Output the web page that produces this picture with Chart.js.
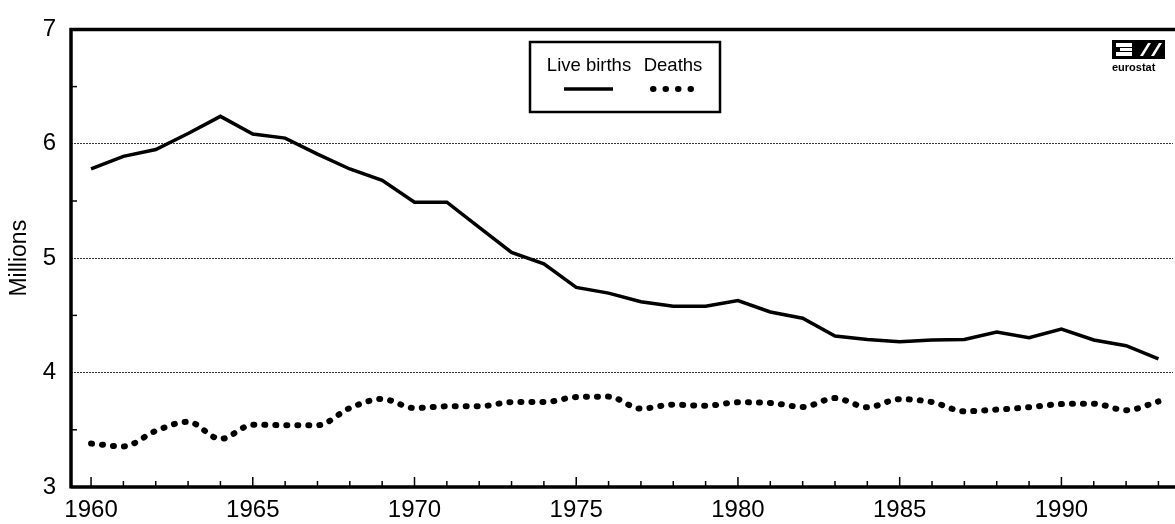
<!DOCTYPE html>
<html>
<head>
<meta charset="utf-8">
<script src="https://cdn.jsdelivr.net/npm/chart.js@4/dist/chart.umd.min.js"></script>
<style>
  html, body { margin: 0; padding: 0; background: #fff; }
  #wrap { position: relative; width: 1175px; height: 524px; }
</style>
</head>
<body>
<div id="wrap"><canvas id="c" width="1175" height="524"></canvas></div>
<script>
const years = [1960,1961,1962,1963,1964,1965,1966,1967,1968,1969,1970,1971,1972,1973,1974,1975,1976,1977,1978,1979,1980,1981,1982,1983,1984,1985,1986,1987,1988,1989,1990,1991,1992,1993];
const liveBirths = [5.78,5.89,5.95,6.09,6.24,6.085,6.05,5.91,5.78,5.68,5.49,5.49,5.27,5.05,4.95,4.745,4.695,4.62,4.58,4.58,4.63,4.53,4.475,4.32,4.29,4.27,4.285,4.29,4.355,4.305,4.38,4.285,4.235,4.12];
const deaths = [3.38,3.355,3.49,3.57,3.42,3.545,3.54,3.54,3.69,3.77,3.69,3.705,3.705,3.742,3.742,3.786,3.79,3.685,3.72,3.71,3.74,3.735,3.70,3.777,3.697,3.768,3.742,3.662,3.677,3.697,3.725,3.728,3.671,3.748];
const yTicks = [3,4,5,6,7];
const seriesNames = ['Live births','Deaths'];
const yTitle = 'Millions';
const logoText = 'eurostat';

const FONT = '"Liberation Sans", Arial, sans-serif';

const framePlugin = {
  id: 'frame',
  afterDatasetsDraw(chart) {
    const ctx = chart.ctx, a = chart.chartArea;
    const xs = chart.scales.x, ys = chart.scales.y;
    ctx.save();
    ctx.strokeStyle = '#000';
    ctx.setLineDash([]);
    // inward ticks on x
    ctx.lineWidth = 1.5;
    years.forEach(yr => {
      const px = xs.getPixelForValue(yr);
      const len = yr % 5 === 0 ? 10 : 6;
      ctx.beginPath(); ctx.moveTo(px, a.bottom); ctx.lineTo(px, a.bottom - len); ctx.stroke();
    });
    // inward minor ticks on y
    for (let v = yTicks[0] + 0.5; v < yTicks[yTicks.length-1]; v += 1) {
      const py = ys.getPixelForValue(v);
      ctx.beginPath(); ctx.moveTo(a.left, py); ctx.lineTo(a.left + 6, py); ctx.stroke();
    }
    // axes / frame
    ctx.lineWidth = 3.5;
    ctx.beginPath();
    ctx.moveTo(a.left, a.bottom); ctx.lineTo(chart.width, a.bottom);
    ctx.moveTo(a.left, a.bottom + 1.5); ctx.lineTo(a.left, a.top - 1.5);
    ctx.moveTo(a.left - 1.5, a.top); ctx.lineTo(chart.width, a.top);
    ctx.stroke();

    // legend box
    const lx = 530, ly = 42, lw = 190, lh = 70;
    ctx.fillStyle = '#fff';
    ctx.fillRect(lx, ly, lw, lh);
    ctx.lineWidth = 2.5;
    ctx.strokeRect(lx, ly, lw, lh);
    ctx.fillStyle = '#000';
    ctx.font = '18.5px ' + FONT;
    ctx.textAlign = 'center';
    ctx.textBaseline = 'middle';
    const ds = chart.data.datasets;
    const cx = [589, 673];
    ctx.fillText(ds[0].label, cx[0], 66, 88);
    ctx.fillText(ds[1].label, cx[1], 66, 62);
    // solid sample
    ctx.lineWidth = ds[0].borderWidth;
    ctx.lineCap = 'butt';
    ctx.beginPath(); ctx.moveTo(564, 89); ctx.lineTo(613, 89); ctx.stroke();
    // dotted sample
    ctx.lineWidth = ds[1].borderWidth;
    ctx.lineCap = 'round';
    ctx.setLineDash([0.5, 12]);
    ctx.beginPath(); ctx.moveTo(653, 89); ctx.lineTo(692, 89); ctx.stroke();
    ctx.setLineDash([]);

    // eurostat logo
    ctx.fillStyle = '#000';
    ctx.fillRect(1112, 40, 53, 19);
    ctx.fillStyle = '#fff';
    ctx.fillRect(1116, 43, 16, 4);
    ctx.fillRect(1120, 48, 12, 3);
    ctx.fillRect(1116, 52, 16, 4);
    ctx.beginPath();
    ctx.moveTo(1140, 56); ctx.lineTo(1148, 43); ctx.lineTo(1151, 43); ctx.lineTo(1143, 56); ctx.closePath(); ctx.fill();
    ctx.beginPath();
    ctx.moveTo(1151, 56); ctx.lineTo(1159, 43); ctx.lineTo(1162, 43); ctx.lineTo(1154, 56); ctx.closePath(); ctx.fill();
    ctx.fillStyle = '#000';
    ctx.font = 'bold 11px ' + FONT;
    ctx.textAlign = 'left';
    ctx.textBaseline = 'alphabetic';
    ctx.fillText(logoText, 1112, 71, 55);
    ctx.restore();
  }
};

const chart = new Chart(document.getElementById('c'), {
  type: 'line',
  data: {
    datasets: [
      {
        label: seriesNames[0],
        data: years.map((y, i) => ({x: y, y: liveBirths[i]})),
        borderColor: '#000',
        borderWidth: 3.5,
        pointRadius: 0,
        tension: 0,
        fill: false
      },
      {
        label: seriesNames[1],
        data: years.map((y, i) => ({x: y, y: deaths[i]})),
        borderColor: '#000',
        borderWidth: 6,
        borderDash: [1, 10],
        borderCapStyle: 'round',
        pointRadius: 0,
        tension: 0.4,
        cubicInterpolationMode: 'monotone',
        fill: false
      }
    ]
  },
  options: {
    responsive: false,
    devicePixelRatio: 1,
    animation: false,
    layout: { padding: { top: 22, right: 2, left: 0, bottom: 0 } },
    plugins: { legend: { display: false }, tooltip: { enabled: false } },
    scales: {
      x: {
        type: 'linear',
        min: 1959.38,
        max: 1993.45,
        afterFit: s => { s.height = 37; },
        grid: { display: true, drawOnChartArea: false, drawTicks: false },
        border: { display: false },
        ticks: {
          stepSize: 1,
          autoSkip: false,
          includeBounds: false,
          maxRotation: 0,
          padding: 9,
          color: '#000',
          font: { family: FONT, size: 24 },
          callback: v => (Math.round(v) % 5 === 0 ? String(Math.round(v)) : '')
        }
      },
      y: {
        min: yTicks[0],
        max: yTicks[yTicks.length - 1],
        afterFit: s => { s.width = 71; },
        afterBuildTicks: s => { s.ticks = yTicks.map(v => ({value: v})); },
        grid: {
          drawTicks: false,
          lineWidth: 1,
          color: c => (c.tick && (c.tick.value === yTicks[0] || c.tick.value === yTicks[yTicks.length-1])) ? 'rgba(0,0,0,0)' : '#333'
        },
        border: { display: false, dash: [2, 1] },
        ticks: {
          padding: 15,
          color: '#000',
          font: { family: FONT, size: 24 }
        },
        title: {
          display: true,
          text: yTitle,
          color: '#000',
          font: { family: FONT, size: 23 },
          padding: { top: 6, bottom: 0 }
        }
      }
    }
  },
  plugins: [framePlugin]
});
</script>
</body>
</html>
